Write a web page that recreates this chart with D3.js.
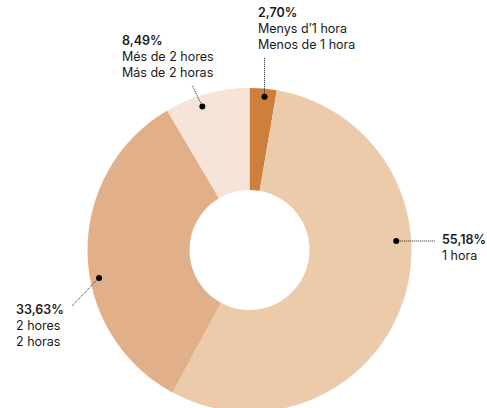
<!DOCTYPE html>
<html>
<head>
<meta charset="utf-8">
<script src="https://cdn.jsdelivr.net/npm/d3@7"></script>
<style>
  body { margin: 0; background: #fff; }
  svg { display: block; font-family: Inter, "Noto Sans", sans-serif; }
</style>
</head>
<body>
<div id="chart"></div>
<script>
// data, clockwise from 12 o'clock
var values = [2.70, 55.18, 33.63, 8.49];
var pctLabels = ["2,70%", "55,18%", "33,63%", "8,49%"];
var catLabelsCa = ["Menys d\u20191 hora", "1 hora", "2 hores", "Més de 2 hores"];
var catLabelsEs = ["Menos de 1 hora", "", "2 horas", "Más de 2 horas"];
var colors = ["#cd7f3b", "#eccbab", "#e2b088", "#f5e4d7"];

var width = 487,
    height = 408,
    cx = 249.5,
    cy = 250,
    outerR = 162,
    innerR = 60;

// where the callouts sit (angle of the dot in degrees, end of leader, text anchor)
var callouts = [
  {angle: 5.6,   r: 154, end: [264.5, 57],  text: [258, 17]},
  {angle: 86.5,  r: 147, end: [435, 241],   text: [442, 244]},
  {angle: 259.5, r: 153, end: [72, 306],    text: [16, 314]},
  {angle: 341.8, r: 151, end: [192, 85],    text: [122, 45]}
];

var svg = d3.select("#chart").append("svg")
    .attr("width", width)
    .attr("height", height);

var g = svg.append("g")
    .attr("transform", "translate(" + cx + "," + cy + ")");

var pie = d3.pie()
    .sort(null)
    .value(function(d) { return d; });

var arc = d3.arc()
    .innerRadius(innerR)
    .outerRadius(outerR);

g.selectAll("path")
    .data(pie(values))
  .enter().append("path")
    .attr("d", arc)
    .attr("fill", function(d, i) { return colors[i]; });

var lab = svg.selectAll("g.callout")
    .data(values)
  .enter().append("g")
    .attr("class", "callout");

function dotPos(i) {
  var a = callouts[i].angle * Math.PI / 180;
  return [cx + callouts[i].r * Math.sin(a), cy - callouts[i].r * Math.cos(a)];
}

lab.append("line")
    .attr("x1", function(d, i) { return dotPos(i)[0]; })
    .attr("y1", function(d, i) { return dotPos(i)[1]; })
    .attr("x2", function(d, i) { return callouts[i].end[0]; })
    .attr("y2", function(d, i) { return callouts[i].end[1]; })
    .attr("stroke", "#222")
    .attr("stroke-width", 1)
    .attr("stroke-dasharray", "1,1");

lab.append("circle")
    .attr("cx", function(d, i) { return dotPos(i)[0]; })
    .attr("cy", function(d, i) { return dotPos(i)[1]; })
    .attr("r", 3)
    .attr("fill", "#000");

var txt = lab.append("text")
    .attr("x", function(d, i) { return callouts[i].text[0]; })
    .attr("y", function(d, i) { return callouts[i].text[1]; })
    .attr("font-size", 12.5)
    .attr("fill", "#1a1a1a");

txt.each(function(d, i) {
  var t = d3.select(this),
      x = callouts[i].text[0],
      lines = [catLabelsCa[i], catLabelsEs[i]].filter(function(s) { return s; });
  t.append("tspan")
      .attr("x", x)
      .attr("font-weight", 600)
      .text(pctLabels[i]);
  lines.forEach(function(s) {
    t.append("tspan")
        .attr("x", x)
        .attr("dy", 16)
        .text(s);
  });
});
</script>
</body>
</html>
